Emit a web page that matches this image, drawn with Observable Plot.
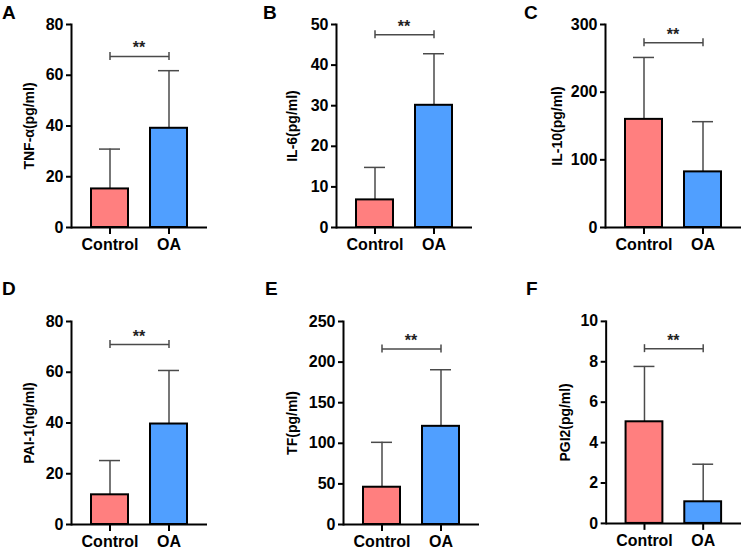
<!DOCTYPE html>
<html>
<head>
<meta charset="utf-8">
<script src="https://cdn.jsdelivr.net/npm/d3@7"></script>
<script src="https://cdn.jsdelivr.net/npm/@observablehq/plot@0.6"></script>
<style>
  body { margin: 0; background: #fff; }
  #fig { position: relative; width: 744px; height: 550px; overflow: hidden;
         font-family: "Liberation Sans", Arial, sans-serif; }
  .panel { position: absolute; }
  .letter { position: absolute; font-weight: bold; font-size: 19px; line-height: 19px; color: #000; }
</style>
</head>
<body>
<div id="fig"></div>
<script>
// Panel data: mean ± SD of each marker, Control vs OA
const panelLetters = ["A", "B", "C", "D", "E", "F"];
const yLabels = ["TNF-α(pg/ml)", "IL-6(pg/ml)", "IL-10(pg/ml)", "PAI-1(ng/ml)", "TF(pg/ml)", "PGI2(pg/ml)"];
const groups = ["Control", "OA"];
const controlMean = [15.2, 6.8, 159.8, 11.7, 45.9, 5.03];
const controlSD = [15.7, 8.0, 91.5, 13.5, 55.3, 2.74];
const oaMean = [39.1, 30.1, 82.2, 39.6, 120.9, 1.07];
const oaSD = [22.7, 12.7, 74.2, 21.1, 69.7, 1.86];
const yMax = [80, 50, 300, 80, 250, 10];
const yStep = [20, 10, 100, 20, 50, 2];
const bracketY = [67.4, 47.5, 273, 70.9, 216, 8.65];
const sigText = ["**", "**", "**", "**", "**", "**"];

// Layout of the 2×3 grid
const panelLeft = [0, 265, 534, 0, 272, 535];
const panelTop = [0, 0, 0, 297, 297, 297];
const letterLeft = [2, 263, 524, 2, 265, 526];
const letterTop = [3, 3, 3, 279, 279, 279];
const labelOffset = [42, 44, 48, 42, 51, 41];

const colors = {Control: "#FF7F7F", OA: "#509FFF"};
const fig = document.getElementById("fig");

panelLetters.forEach((letter, i) => {
  const rows = [
    {group: "Control", mean: controlMean[i], upper: controlMean[i] + controlSD[i]},
    {group: "OA", mean: oaMean[i], upper: oaMean[i] + oaSD[i]}
  ];
  const bracket = [{x1: groups[0], x2: groups[1], y: bracketY[i], text: sigText[i]}];
  const ticks = d3.range(0, yMax[i] + yStep[i] / 2, yStep[i]);

  const chart = Plot.plot({
    width: 210,
    height: 260,
    marginLeft: 71,
    marginRight: 3,
    marginTop: 24,
    marginBottom: 33,
    style: {fontFamily: "'Liberation Sans', Arial, sans-serif", fontWeight: "bold", color: "#000", background: "transparent", overflow: "visible"},
    x: {domain: groups, type: "band", paddingInner: 0.38, paddingOuter: 0.34},
    y: {domain: [0, yMax[i]], nice: false},
    marks: [
      // error bars (upper SD only)
      Plot.ruleX(rows, {x: "group", y1: "mean", y2: "upper", stroke: "#4a4a4a", strokeWidth: 1.5}),
      Plot.tickY(rows, {x: "group", y: "upper", stroke: "#4a4a4a", strokeWidth: 1.5, insetLeft: 8, insetRight: 8}),
      // bars
      Plot.barY(rows, {x: "group", y: "mean", fill: (d) => colors[d.group], stroke: "#000", strokeWidth: 2}),
      // significance bracket
      Plot.link(bracket, {x1: "x1", x2: "x2", y1: "y", y2: "y", stroke: "#4a4a4a", strokeWidth: 1.5}),
      Plot.ruleX(bracket, {x: "x1", y1: "y", y2: "y", insetTop: -4, insetBottom: -4, stroke: "#4a4a4a", strokeWidth: 1.5}),
      Plot.ruleX(bracket, {x: "x2", y1: "y", y2: "y", insetTop: -4, insetBottom: -4, stroke: "#4a4a4a", strokeWidth: 1.5}),
      Plot.text(bracket, {x: (d) => d.x1, y: "y", text: "text", dx: 29, dy: -3, lineAnchor: "bottom", fontSize: 16, fontWeight: "bold", fill: "#222"}),
      // axes
      Plot.frame({anchor: "left", stroke: "#000", strokeWidth: 2}),
      Plot.ruleY([0], {stroke: "#000", strokeWidth: 2}),
      Plot.axisY({ticks, tickSize: 5, tickPadding: 3, strokeWidth: 2, fontSize: 16, label: null, tickFormat: (d) => String(d)}),
      Plot.axisX({tickSize: 7, tickPadding: 4, strokeWidth: 2, fontSize: 16, label: null}),
      Plot.text([yLabels[i]], {text: (d) => d, frameAnchor: "left", textAnchor: "middle", lineAnchor: "middle", rotate: -90, dx: -labelOffset[i], fontSize: 14, fontWeight: "bold", fill: "#000"})
    ]
  });

  const holder = document.createElement("div");
  holder.className = "panel";
  holder.style.left = panelLeft[i] + "px";
  holder.style.top = panelTop[i] + "px";
  holder.appendChild(chart);
  fig.appendChild(holder);

  const tag = document.createElement("div");
  tag.className = "letter";
  tag.textContent = letter;
  tag.style.left = letterLeft[i] + "px";
  tag.style.top = letterTop[i] + "px";
  fig.appendChild(tag);
});
</script>
</body>
</html>
